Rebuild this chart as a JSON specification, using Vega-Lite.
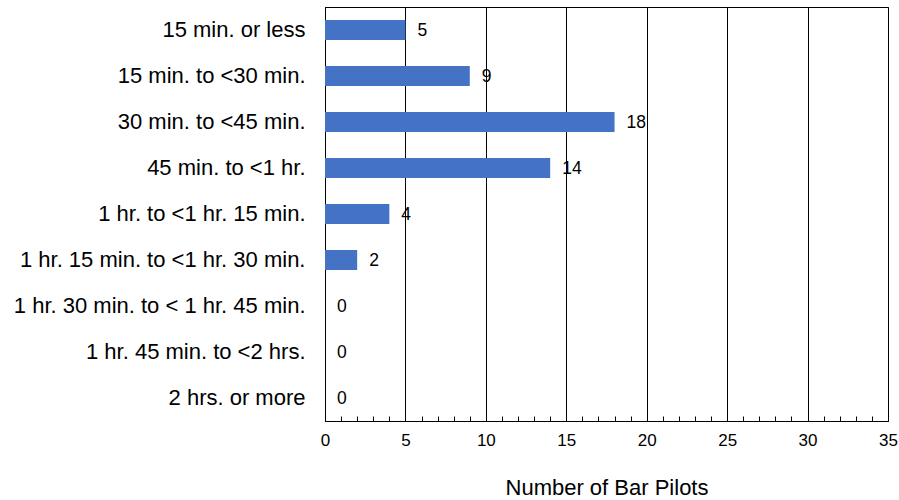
{
  "$schema": "https://vega.github.io/schema/vega-lite/v6.json",
  "autosize": {"type": "none"},
  "padding": {"left": 325, "top": 7, "right": 11, "bottom": 79},
  "width": 563,
  "height": 414,
  "background": "white",
  "config": {
    "font": "Liberation Sans",
    "view": {"stroke": "black", "strokeWidth": 1}
  },
  "data": {
    "values": [
      {"category": "15 min. or less", "pilots": 5},
      {"category": "15 min. to <30 min.", "pilots": 9},
      {"category": "30 min. to <45 min.", "pilots": 18},
      {"category": "45 min. to <1 hr.", "pilots": 14},
      {"category": "1 hr. to <1 hr. 15 min.", "pilots": 4},
      {"category": "1 hr. 15 min. to <1 hr. 30 min.", "pilots": 2},
      {"category": "1 hr. 30 min. to < 1 hr. 45 min.", "pilots": 0},
      {"category": "1 hr. 45 min. to <2 hrs.", "pilots": 0},
      {"category": "2 hrs. or more", "pilots": 0}
    ]
  },
  "encoding": {
    "y": {
      "field": "category",
      "type": "nominal",
      "sort": null,
      "scale": {"paddingInner": 0.565, "paddingOuter": 0.2825},
      "axis": {
        "title": null,
        "ticks": false,
        "domainColor": "black",
        "labelFontSize": 22,
        "labelColor": "black",
        "labelPadding": 20,
        "labelLimit": 400
      }
    }
  },
  "layer": [
    {
      "mark": {"type": "bar", "color": "#4472C4"},
      "encoding": {
        "x": {
          "field": "pilots",
          "type": "quantitative",
          "scale": {"domain": [0, 35], "nice": false},
          "axis": {
            "orient": "bottom",
            "values": [0, 5, 10, 15, 20, 25, 30, 35],
            "grid": true,
            "gridColor": "black",
            "gridOpacity": 1,
            "gridWidth": 1,
            "ticks": false,
            "domainColor": "black",
            "labelFlush": false,
            "labelFontSize": 17,
            "labelColor": "black",
            "labelPadding": 11,
            "title": "Number of Bar Pilots",
            "titleFontSize": 22,
            "titleFontWeight": "normal",
            "titleColor": "black",
            "titlePadding": 29
          }
        }
      }
    },
    {
      "mark": {"type": "text", "align": "left", "dx": 12, "dy": 1, "fontSize": 17.5, "color": "black"},
      "encoding": {
        "x": {
          "field": "pilots",
          "type": "quantitative",
          "scale": {"domain": [0, 35], "nice": false},
          "axis": {
            "orient": "bottom",
            "values": [1,2,3,4,6,7,8,9,11,12,13,14,16,17,18,19,21,22,23,24,26,27,28,29,31,32,33,34],
            "grid": false,
            "labels": false,
            "domain": false,
            "ticks": true,
            "tickSize": -5,
            "tickColor": "black",
            "title": null
          }
        },
        "text": {"field": "pilots", "type": "quantitative"}
      }
    }
  ],
  "resolve": {"axis": {"x": "independent"}}
}
